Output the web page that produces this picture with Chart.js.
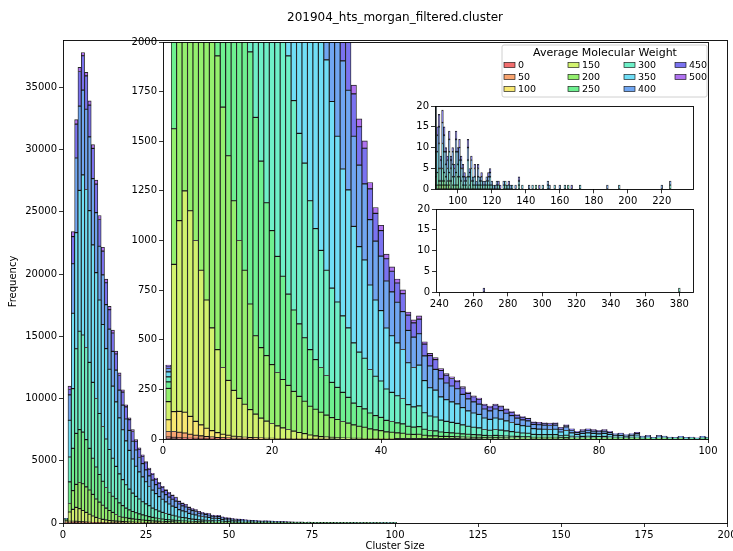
<!DOCTYPE html>
<html><head><meta charset="utf-8">
<script src="https://cdn.jsdelivr.net/npm/chart.js@4"></script>
<style>
html,body{margin:0;padding:0;background:#fff;overflow:hidden;}
#wrap{position:relative;width:733px;height:551px;overflow:hidden;background:#fff;}
canvas{position:absolute;}
</style></head><body>
<div id="wrap">
<canvas id="cMain" width="745" height="551" style="left:0;top:0"></canvas>
<canvas id="cInset" width="607" height="420" style="left:118px;top:34px"></canvas>
<canvas id="cTop" width="310" height="110" style="left:400px;top:98px"></canvas>
<canvas id="cBot" width="310" height="110" style="left:400px;top:201px"></canvas>
</div>
<script>
// ---------- data ----------
const mwLabels = ['0','50','100','150','200','250','300','350','400','450','500'];
const clusterSize = [1,2,3,4,5,6,7,8,9,10,11,12,13,14,15,16,17,18,19,20,21,22,23,24,25,26,27,28,29,30,31,32,33,34,35,36,37,38,39,40,41,42,43,44,45,46,47,48,49,50,51,52,53,54,55,56,57,58,59,60,61,62,63,64,65,66,67,68,69,70,71,72,73,74,75,76,77,78,79,80,81,82,83,84,85,86,87,88,89,90,91,92,93,94,95,96,97,98,99,100];
const w0 = [10,8,6,5,4,3,3,2,2,1,1,1];
const w50 = [28,30,28,25,20,16,13,10,8,6,5,4,3,2,2,1,1,1];
const w100 = [59,100,105,105,90,70,55,42,32,25,18,14,11,9,7,6,5,4,3,3,2,2,2,1,1,1,1,1,1,1];
const w150 = [91,742,961,1115,1036,911,779,646,518,418,336,276,231,194,166,141,119,100,87,75,64,54,46,39,32,26,19,15,11,9,8,6,5,4,3,3,2,2,2,1,1,1];
const w200 = [67,683,1500,1850,2100,2150,2050,1950,1740,1480,
  1312,1132,955,795,675,532,395,355,330,297,
  269,244,222,200,182,163,145,134,123,110,
  100,92,83,76,68,61,57,49,44,41,
  35,33,31,29,24,23,24,19,16,16,
  13,13,12,11,10,9,8,8,7,6,
  7,6,6,5,5,4,4,3,3,3,
  3,3,2,3,2,1,2,2,2,2,
  2,1,1,1,1,1,1,0,1,0,
  1,1,0,0,1,0,0,0,0,0];
const w250 = [33,1737,3400,4100,4250,4150,3800,3350,2900,2570,
  2228,1923,1650,1450,1300,1270,1100,940,770,675,
  585,520,460,410,365,320,285,250,225,200,
  177,162,147,130,110,100,93,80,72,67,
  58,54,50,47,40,37,38,30,27,25,
  22,20,19,18,16,15,14,13,11,10,
  11,10,9,9,8,7,7,5,5,5,
  5,5,4,4,3,2,3,3,3,3,
  3,2,2,2,1,2,2,1,1,1,
  1,1,1,1,1,0,1,0,1,1];
const w300 = [25,2000,4800,6800,7900,7800,7400,6900,6100,5500,
  4900,4400,3900,3450,3050,2600,2330,2080,1880,1670,
  1480,1320,1200,1055,960,880,750,660,590,530,
  475,430,385,350,303,274,255,219,198,183,
  158,147,137,128,109,102,105,83,73,70,
  60,56,53,50,45,40,37,35,30,28,
  30,29,26,23,21,19,18,15,14,14,
  14,14,10,12,9,7,8,9,8,7,
  8,7,5,5,4,5,6,3,3,1,
  3,2,2,1,2,2,2,1,3,2];
const w350 = [25,2950,6050,9330,11320,12870,12690,12190,11040,10110,
  9110,8200,7260,6450,5800,5180,4490,4010,3530,3110,
  2740,2420,2180,1995,1770,1540,1440,1300,1170,1060,
  940,835,740,695,587,531,495,426,384,355,
  307,285,266,247,211,198,205,162,142,135,
  117,109,103,98,87,78,72,68,58,55,
  58,55,50,46,40,37,35,29,28,27,
  26,27,19,24,17,13,15,17,15,14,
  15,13,9,10,7,9,11,5,6,3,
  6,5,3,3,5,3,3,2,5,3];
const w400 = [17,2046,3978,5994,6771,6804,6444,5933,5320,4821,
  4323,3987,3528,3219,2790,2553,2229,1980,1758,1606,
  1425,1307,1150,1069,963,858,800,720,668,588,
  574,554,545,502,454,411,383,329,297,274,
  237,221,205,191,163,153,158,125,110,105,
  91,84,80,76,67,60,56,52,45,43,
  45,43,39,35,31,29,27,22,22,21,
  20,21,15,18,13,10,12,13,12,11,
  12,10,7,8,6,7,8,4,4,2,
  5,4,3,2,3,2,3,2,3,3];
const w450 = [13,429,2176,2722,2782,2759,2679,2543,2432,2287,
  2149,1905,1764,1566,1473,1297,1181,1038,969,862,
  788,704,666,603,568,528,480,450,408,382,
  342,327,313,288,214,193,180,155,140,129,
  112,104,97,90,77,72,74,59,52,49,
  43,40,38,36,32,28,26,25,21,20,
  21,20,18,17,15,14,13,11,10,10,
  10,10,7,9,6,5,6,6,6,5,
  6,5,3,4,3,3,4,2,3,1,
  3,2,1,1,2,1,1,1,2,1];
const w500 = [4,275,398,356,329,265,290,339,304,331,
  321,310,294,261,233,221,205,193,171,152,
  150,134,121,110,99,88,80,72,65,59,
  59,54,50,46,44,40,37,32,29,27,
  23,22,20,19,16,15,16,12,11,10,
  9,8,8,7,7,6,5,5,4,4,
  4,4,4,3,3,3,2,2,2,2,
  2,2,1,2,1,1,1,1,1,1,
  1,1,0,0,0,0,1,0,0,0];

// sparse tail of large clusters (shown in the two small insets)
const tailSize = [101,102,103,104,105,106,107,108,109,110,111,112,113,114,115,116,117,118,119,120,121,122,123,124,125,
  127,128,129,130,131,132,134,136,138,142,144,146,148,150,153,154,157,160,163,165,167,172,188,195,220,225,266,380];
const tail300 = [3,2,1,1,1,3,1,2,1,1,0,1,1,1,0,1,1,1,1,0,0,0,0,1,0,
  0,1,0,0,0,0, 0,1,0, 0,0,1,0,0, 0,0,0,0,0,1,0,0, 0,0,0,1, 0,1];
const tail350 = [4,3,2,1,1,4,2,3,1,2,1,2,1,1,1,0,1,1,2,1,1,0,1,0,0,
  1,1,1,1,0,1, 0,1,1, 0,1,0,0,1, 1,0,1,0,1,0,0,1, 0,1,0,0, 0,0];
const tail400 = [3,2,2,1,1,3,1,2,1,2,1,2,1,1,1,1,1,1,1,1,0,1,1,0,0,
  1,0,0,0,1,0, 1,0,0, 1,0,0,0,0, 1,1,0,1,0,0,0,0, 1,0,1,1, 0,0];
const tail450 = [2,1,1,1,0,2,1,1,0,1,0,1,0,1,0,0,0,1,1,0,0,0,0,1,1,
  0,0,0,1,0,0, 0,1,0, 0,0,0,1,0, 0,0,0,0,0,0,1,0, 0,0,0,0, 1,0];

// tick labels
const mainXTicks = [0,25,50,75,100,125,150,175,200];
const mainYTicks = [0,5000,10000,15000,20000,25000,30000,35000];
const insetXTicks = [0,20,40,60,80,100];
const insetYTicks = [0,250,500,750,1000,1250,1500,1750,2000];
const topXTicks = [100,120,140,160,180,200,220];
const topYTicks = [0,5,10,15,20];
const botXTicks = [240,260,280,300,320,340,360,380];
const botYTicks = [0,5,10,15,20];

const chartTitle = '201904_hts_morgan_filtered.cluster';
const xTitle = 'Cluster Size';
const yTitle = 'Frequency';
const legendTitle = 'Average Molecular Weight';

// ---------- styles ----------
const mwFill = ['#f26e6e','#f8a470','#f8e872','#d2f26e','#94f06e','#6ef090','#6ef0c8','#70def6','#70a6f2','#7a72f0','#b072f0'];
const EDGE = 'rgba(0,0,0,0.85)';
const FONT = "'DejaVu Sans', sans-serif";
Chart.defaults.font.family = FONT;
Chart.defaults.font.size = 10;
Chart.defaults.color = '#000';

const seriesMain = [w0,w50,w100,w150,w200,w250,w300,w350,w400,w450,w500];
const seriesTail = [[],[],[],[],[],[],tail300,tail350,tail400,tail450,[]];

function buildSets(withTail, bw) {
  return mwLabels.map((lab, s) => {
    const data = clusterSize.map((x, i) => ({x: x, y: seriesMain[s][i] || null}));
    if (withTail) tailSize.forEach((x, i) => data.push({x: x, y: seriesTail[s][i] || null}));
    return {label: lab, data: data, backgroundColor: mwFill[s], borderColor: EDGE,
      borderWidth: bw, borderSkipped: false, barPercentage: 1, categoryPercentage: 1};
  });
}

function axis(min, max, ticks, fitProp, fitVal) {
  return {
    type: 'linear', stacked: true, offset: false, min: min, max: max,
    afterBuildTicks: s => { s.ticks = ticks.map(v => ({value: v})); },
    afterFit: s => { s[fitProp] = fitVal; },
    grid: {display: true, drawOnChartArea: false, drawTicks: true, tickLength: 4, color: '#000', lineWidth: 0.8, offset: false},
    border: {display: false},
    ticks: {padding: 2, color: '#000', font: {size: 10, family: FONT}, maxRotation: 0, autoSkip: false, callback: v => String(v)}
  };
}

function framePlugin(fill, extra) {
  return {
    id: 'frame',
    beforeDraw(chart) {
      if (!fill) return;
      const a = chart.chartArea, c = chart.ctx;
      c.save(); c.fillStyle = '#fff'; c.fillRect(a.left, a.top, a.right - a.left, a.bottom - a.top); c.restore();
    },
    afterDatasetsDraw(chart) {
      const a = chart.chartArea, c = chart.ctx;
      c.save(); c.strokeStyle = '#000'; c.lineWidth = 0.9;
      c.strokeRect(Math.round(a.left) + 0.5, Math.round(a.top) + 0.5, Math.round(a.right - a.left), Math.round(a.bottom - a.top));
      c.restore();
    },
    afterDraw(chart) { if (extra) extra(chart); }
  };
}

function makeChart(id, cfg) {
  return new Chart(document.getElementById(id), {
    type: 'bar',
    data: {datasets: buildSets(cfg.tail, cfg.bw)},
    options: {
      responsive: false, animation: false, events: [],
      layout: {padding: cfg.pad},
      plugins: {legend: {display: false}, title: {display: false}, tooltip: {enabled: false}},
      scales: {
        x: axis(cfg.xmin, cfg.xmax, cfg.xt, 'height', cfg.xh),
        y: axis(0, cfg.ymax, cfg.yt, 'width', cfg.yw)
      }
    },
    plugins: [framePlugin(cfg.fill, cfg.extra)]
  });
}

// main chart
makeChart('cMain', {
  tail: false, bw: 0.9, pad: {left: 0, top: 40, right: 18, bottom: 0},
  xmin: 0, xmax: 200, xt: mainXTicks, xh: 28,
  ymax: 38800, yt: mainYTicks, yw: 63, fill: false,
  extra(chart) {
    const c = chart.ctx, a = chart.chartArea;
    const cx = (a.left + a.right) / 2;
    c.save(); c.fillStyle = '#000'; c.textAlign = 'center'; c.textBaseline = 'middle';
    c.font = '12px ' + FONT; c.fillText(chartTitle, cx, 18);
    c.font = '10px ' + FONT; c.fillText(xTitle, cx, 546);
    c.translate(13, (a.top + a.bottom) / 2); c.rotate(-Math.PI / 2);
    c.fillText(yTitle, 0, 0);
    c.restore();
  }
});

// zoomed inset with legend
makeChart('cInset', {
  tail: false, bw: 0.9, pad: {left: 0, top: 7, right: 17, bottom: 0},
  xmin: 0, xmax: 100, xt: insetXTicks, xh: 15,
  ymax: 2000, yt: insetYTicks, yw: 45, fill: true,
  extra(chart) {
    const c = chart.ctx;
    c.save();
    const bx = 384, by = 11, bwid = 205, bh = 52, r = 2;
    c.fillStyle = 'rgba(255,255,255,0.85)'; c.strokeStyle = '#d0d0d0'; c.lineWidth = 1;
    c.beginPath();
    c.moveTo(bx + r, by); c.lineTo(bx + bwid - r, by); c.quadraticCurveTo(bx + bwid, by, bx + bwid, by + r);
    c.lineTo(bx + bwid, by + bh - r); c.quadraticCurveTo(bx + bwid, by + bh, bx + bwid - r, by + bh);
    c.lineTo(bx + r, by + bh); c.quadraticCurveTo(bx, by + bh, bx, by + bh - r);
    c.lineTo(bx, by + r); c.quadraticCurveTo(bx, by, bx + r, by);
    c.closePath(); c.fill(); c.stroke();
    c.fillStyle = '#000'; c.textAlign = 'center'; c.textBaseline = 'middle';
    c.font = '11px ' + FONT; c.fillText(legendTitle, 487, 19);
    const colSw = [386, 450, 506, 557], colTx = [400, 464, 520, 571], rowY = [31, 43, 55];
    c.font = '9.5px ' + FONT; c.textAlign = 'left';
    mwLabels.forEach((lab, i) => {
      const col = Math.floor(i / 3), row = i % 3;
      const y = rowY[row];
      c.fillStyle = mwFill[i]; c.fillRect(colSw[col], y - 2.5, 11, 5);
      c.strokeStyle = EDGE; c.lineWidth = 0.7; c.strokeRect(colSw[col], y - 2.5, 11, 5);
      c.fillStyle = '#000'; c.fillText(lab, colTx[col], y + 0.5);
    });
    c.restore();
  }
});

// upper small inset (sizes ~87-238)
makeChart('cTop', {
  tail: true, bw: 0.8, pad: {left: 0, top: 8, right: 17.3, bottom: 0},
  xmin: 86.6, xmax: 238.2, xt: topXTicks, xh: 18.7,
  ymax: 20, yt: topYTicks, yw: 35, fill: true
});

// lower small inset (sizes ~238-388)
makeChart('cBot', {
  tail: true, bw: 0.8, pad: {left: 0, top: 8, right: 17.3, bottom: 0},
  xmin: 238.1, xmax: 387.8, xt: botXTicks, xh: 18.7,
  ymax: 20, yt: botYTicks, yw: 36, fill: true
});
</script>
</body></html>
